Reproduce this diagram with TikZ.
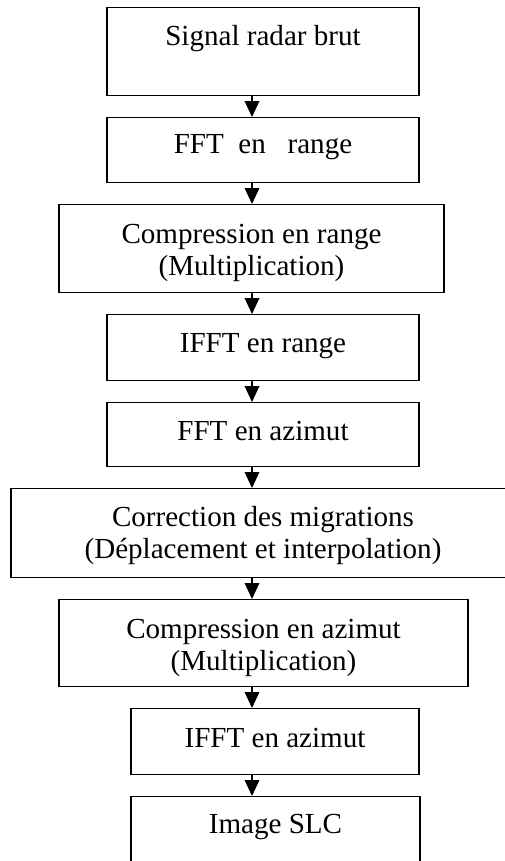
\documentclass[tikz,border=0pt]{standalone}
\usepackage{fontspec}
\setmainfont{Liberation Serif}
\usetikzlibrary{arrows.meta}

\begin{document}
\begin{tikzpicture}[x=0.75pt, y=-0.75pt,
  stage/.style={draw, line width=1pt, inner xsep=0pt, inner ysep=0pt, anchor=north,
                align=center, font=\fontsize{21.8}{24.5}\selectfont},
  flow/.style={-{Triangle[width=11pt,length=12pt]}, line width=1pt}]
  \useasboundingbox (0,0) rectangle (505,861);
  \clip (0,0) rectangle (505,861);
  \coordinate (axis) at (252,0);
  \foreach \n/\x/\y/\w/\h/\d/\txt in {%
      1/263/7/312/28.5/37.5/{Signal radar brut},
      2/263/117/312/27/21.75/{FFT\ \ en\ \ \ range},
      3/251.5/204/385/53.25/12.75/{Compression en range\\(Multiplication)},
      4/263/314/312/28.5/21/{IFFT en range},
      5/263/402/312/28.5/19.5/{FFT en azimut},
      6/263/488/504/52.5/14.25/{Correction des migrations\\(Déplacement et interpolation)},
      7/263.5/599/409/53.25/12/{Compression en azimut\\(Multiplication)},
      8/275/708/288/29.25/20.25/{IFFT en azimut},
      9/275.5/796/289/27.75/39/{Image SLC}}{
    \node[stage, minimum width=\w*0.75pt, text height=\h pt, text depth=\d pt] (s\n) at (\x,\y) {\txt};
  }
  \foreach \i/\j in {1/2,2/3,3/4,4/5,5/6,6/7,7/8,8/9}
    \draw[flow] (axis |- s\i.south) -- (axis |- s\j.north);
\end{tikzpicture}
\end{document}
